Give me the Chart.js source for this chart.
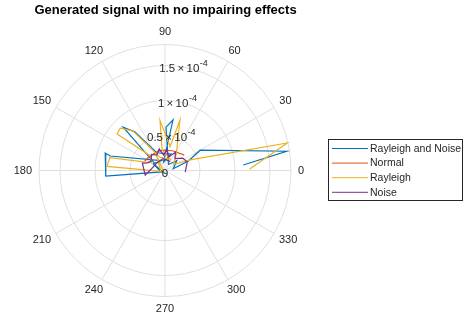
<!DOCTYPE html>
<html>
<head>
<meta charset="utf-8">
<script src="https://cdn.jsdelivr.net/npm/chart.js@4/dist/chart.umd.min.js"></script>
<style>
html,body{margin:0;padding:0;background:#fff;}
#c{display:block;}
</style>
</head>
<body>
<canvas id="c" width="464" height="321"></canvas>
<script>
// ---------- data (angles in degrees, radii in signal units) ----------
const chartTitle = 'Generated signal with no impairing effects';
const seriesNames = ['Rayleigh and Noise', 'Normal', 'Rayleigh', 'Noise'];
const seriesColors = ['#0072BD', '#D95319', '#EDB120', '#7E2F8E'];

const thetaRayleighNoise = [4, 9, 30, 22, 12, 40, 60, 88.7, 81, 83, 100, 70, 115, 128, 134, 145, 110, 165.2, 163.7, 185.3, 200, 150, 260, 300];
const rhoRayleighNoise   = [1.12e-4, 1.76e-4, 0.58e-4, 0.36e-4, 0.12e-4, 0.22e-4, 0.10e-4, 0.62e-4, 0.73e-4, 0.48e-4, 0.12e-4, 0.25e-4, 0.28e-4, 0.70e-4, 0.86e-4, 0.18e-4, 0.15e-4, 0.81e-4, 0.89e-4, 0.85e-4, 0.06e-4, 0.20e-4, 0.04e-4, 0.05e-4];

const thetaNormal = [155, 148, 140, 130, 120, 110, 100, 90, 80, 70, 60, 50, 43, 38];
const rhoNormal   = [0.32e-4, 0.31e-4, 0.30e-4, 0.29e-4, 0.29e-4, 0.29e-4, 0.29e-4, 0.29e-4, 0.29e-4, 0.30e-4, 0.31e-4, 0.32e-4, 0.34e-4, 0.35e-4];

const thetaRayleigh = [1, 12.7, 22.8, 35, 55, 73.5, 78, 95.7, 98, 65, 110, 129, 136.6, 142.7, 135, 150, 167, 176, 190, 120, 240];
const rhoRayleigh   = [1.21e-4, 1.79e-4, 0.39e-4, 0.15e-4, 0.28e-4, 0.75e-4, 0.35e-4, 0.72e-4, 0.30e-4, 0.18e-4, 0.20e-4, 0.73e-4, 0.88e-4, 0.86e-4, 0.30e-4, 0.22e-4, 0.81e-4, 0.83e-4, 0.06e-4, 0.24e-4, 0.03e-4];

const thetaNoise = [355.7, 21, 34.8, 50, 60, 75, 85, 95, 105, 118, 130, 145, 156, 162, 192.7, 175, 140, 100, 60];
const rhoNoise   = [0.29e-4, 0.34e-4, 0.31e-4, 0.22e-4, 0.30e-4, 0.20e-4, 0.30e-4, 0.22e-4, 0.32e-4, 0.25e-4, 0.30e-4, 0.24e-4, 0.27e-4, 0.34e-4, 0.29e-4, 0.20e-4, 0.16e-4, 0.17e-4, 0.15e-4];

const angleTicks = [0, 30, 60, 90, 120, 150, 180, 210, 240, 270, 300, 330];
const radiusTicks = [0, 0.5e-4, 1e-4, 1.5e-4];
const radiusTickMantissa = ['0', '0.5', '1', '1.5'];
const radiusTickExponent = ['', '-4', '-4', '-4'];
const radiusMax = 1.8e-4;

// ---------- layout ----------
const W = 464, H = 321;
const CX = 165, CY = 170.5, RPX = 126;
const FONT = '"Liberation Sans", Arial, Helvetica, sans-serif';
const TXT = '#262626';
const GRID = '#dfdfdf';

function polarPoints(th, rh) {
  return th.map((t, i) => {
    const a = t * Math.PI / 180;
    return { x: rh[i] * Math.cos(a), y: rh[i] * Math.sin(a) };
  });
}

const perPx = radiusMax / RPX;

const polarPlugin = {
  id: 'polarDecor',
  beforeDatasetsDraw(chart) {
    const ctx = chart.ctx, xs = chart.scales.x, ys = chart.scales.y;
    const cx = xs.getPixelForValue(0), cy = ys.getPixelForValue(0);
    const rp = v => xs.getPixelForValue(v) - cx;
    ctx.save();
    ctx.strokeStyle = GRID;
    ctx.lineWidth = 1;
    radiusTicks.concat([radiusMax]).forEach(r => {
      if (r <= 0) return;
      ctx.beginPath();
      ctx.arc(cx, cy, rp(r), 0, Math.PI * 2);
      ctx.stroke();
    });
    angleTicks.forEach(t => {
      const a = t * Math.PI / 180;
      ctx.beginPath();
      ctx.moveTo(cx, cy);
      ctx.lineTo(xs.getPixelForValue(radiusMax * Math.cos(a)), ys.getPixelForValue(radiusMax * Math.sin(a)));
      ctx.stroke();
    });
    ctx.restore();
  },
  afterDatasetsDraw(chart) {
    const ctx = chart.ctx, xs = chart.scales.x, ys = chart.scales.y;
    const cx = xs.getPixelForValue(0), cy = ys.getPixelForValue(0);
    const R = xs.getPixelForValue(radiusMax) - cx;
    ctx.save();
    ctx.fillStyle = TXT;
    ctx.font = '11px ' + FONT;
    ctx.textAlign = 'center';
    ctx.textBaseline = 'middle';
    angleTicks.forEach(t => {
      const a = t * Math.PI / 180;
      const s = String(t);
      const w = ctx.measureText(s).width;
      const dx = Math.cos(a), dy = -Math.sin(a);
      const gap = R + 7;
      const x = cx + gap * dx + dx * w / 2;
      const y = cy + gap * dy + dy * 5.5;
      ctx.fillText(s, x, y);
    });
    const ra = 80 * Math.PI / 180;
    radiusTicks.forEach((r, i) => {
      const px = xs.getPixelForValue(r * Math.cos(ra));
      const py = ys.getPixelForValue(r * Math.sin(ra));
      if (radiusTickExponent[i] === '') {
        ctx.font = '11.5px ' + FONT;
        ctx.textAlign = 'center';
        ctx.fillText(radiusTickMantissa[i], px, py + 3);
        return;
      }
      const base = radiusTickMantissa[i] + '\u2009\u00D7\u200910';
      ctx.font = '11.5px ' + FONT;
      const wb = ctx.measureText(base).width;
      ctx.font = '9px ' + FONT;
      const we = ctx.measureText(radiusTickExponent[i]).width;
      const total = wb + we;
      const x0 = px - total / 2;
      ctx.textAlign = 'left';
      ctx.font = '11.5px ' + FONT;
      ctx.fillText(base, x0, py + 2);
      ctx.font = '9px ' + FONT;
      ctx.fillText(radiusTickExponent[i], x0 + wb + 0.5, py - 3.5);
    });
    ctx.restore();
  },
  afterDraw(chart) {
    const ctx = chart.ctx;
    ctx.save();
    ctx.fillStyle = '#000';
    ctx.font = 'bold 13px ' + FONT;
    ctx.textAlign = 'center';
    ctx.textBaseline = 'middle';
    ctx.fillText(chartTitle, 165.5, 10);
    const bx = 328.5, by = 139.5, bw = 134, bh = 61;
    ctx.fillStyle = '#fff';
    ctx.fillRect(bx, by, bw, bh);
    ctx.strokeStyle = '#262626';
    ctx.lineWidth = 1;
    ctx.strokeRect(bx, by, bw, bh);
    ctx.font = '10.5px ' + FONT;
    ctx.textAlign = 'left';
    chart.data.datasets.forEach((ds, i) => {
      const y = 148.5 + i * 14.6;
      ctx.strokeStyle = ds.borderColor;
      ctx.beginPath();
      ctx.moveTo(332, y);
      ctx.lineTo(368, y);
      ctx.stroke();
      ctx.fillStyle = TXT;
      ctx.fillText(ds.label, 370, y + 0.5);
    });
    ctx.restore();
  }
};

const datasets = [
  [thetaRayleighNoise, rhoRayleighNoise],
  [thetaNormal, rhoNormal],
  [thetaRayleigh, rhoRayleigh],
  [thetaNoise, rhoNoise]
].map((p, i) => ({
  label: seriesNames[i],
  data: polarPoints(p[0], p[1]),
  borderColor: seriesColors[i],
  backgroundColor: seriesColors[i],
  borderWidth: 1.2,
  showLine: true,
  pointRadius: 0,
  tension: 0,
  fill: false,
  order: 3 - i
}));

new Chart(document.getElementById('c'), {
  type: 'scatter',
  data: { datasets },
  options: {
    responsive: false,
    devicePixelRatio: 1,
    animation: false,
    layout: { padding: 0 },
    plugins: { legend: { display: false }, title: { display: false }, tooltip: { enabled: false } },
    scales: {
      x: { type: 'linear', display: false, min: -CX * perPx, max: (W - CX) * perPx },
      y: { type: 'linear', display: false, min: -(H - CY) * perPx, max: CY * perPx }
    }
  },
  plugins: [polarPlugin]
});
</script>
</body>
</html>
